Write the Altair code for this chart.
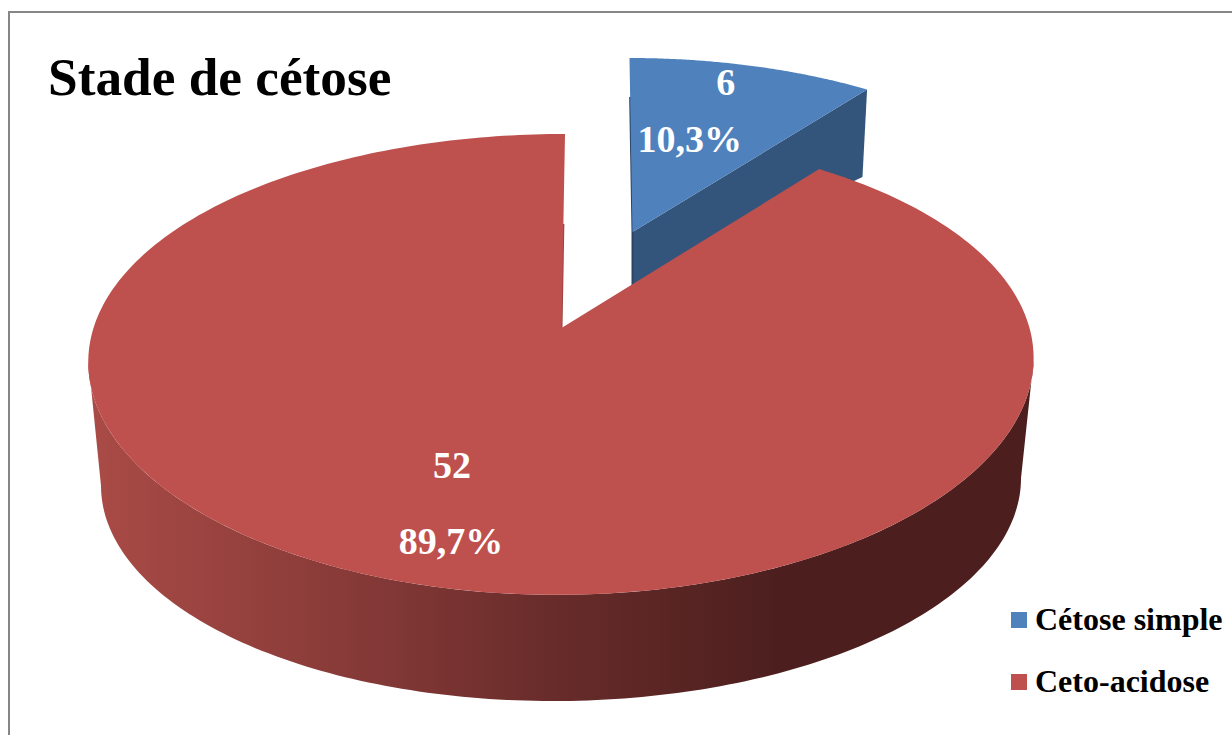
import math

import altair as alt
import pandas as pd

# Chart values
names = ["Cétose simple", "Ceto-acidose"]
counts = [6, 52]
top_colors = ["#4F81BD", "#BE504D"]
title_text = "Stade de cétose"

SERIF = "Liberation Serif"
total = sum(counts)
shares = [c / total for c in counts]
percents = [f"{s * 100:.1f}%".replace(".", ",") for s in shares]
sweep = [s * 360 for s in shares]


def camera(cx, cy, a, b, k=0.158, kx=0.158, s=0.0):
    """Perspective view of a unit disc: bearing in degrees clockwise from the back."""
    def project(bearing, r=1.0):
        t = math.radians(bearing)
        u, v = r * math.sin(t), r * math.cos(t)
        return cx + (a * u + s * v) / (1 + kx * v), cy - b * v / (1 + k * v)
    return project


# Discs of the red slice and of the pulled-out blue slice, top and bottom faces
red_top = camera(561.5, 328, 468, 224.7, kx=0.14, s=4.0)
blue_top = camera(632.5, 232, 441, 201.5, s=-3.5)
blue_bottom = camera(632.5, 286, 437, 154, s=-7)


def arc(project, start, end, steps=120):
    return [project(start + (end - start) * i / steps) for i in range(steps + 1)]


def polygon(points):
    return pd.DataFrame(
        [{"x": x, "y": y, "i": i} for i, (x, y) in enumerate(points)]
    )


def ellipse_front(cx, cy, rx, ry, tilt=0.0, steps=160):
    # Lower half of an ellipse, left to right, slightly tilted
    points = []
    for i in range(steps + 1):
        x = cx - rx * math.cos(math.pi * i / steps)
        y = cy + ry * math.sin(math.pi * i / steps) + tilt * (x - cx)
        points.append((x, y))
    return points


x_scale = alt.Scale(domain=[0, 1232], range=[0, 1232], nice=False, zero=False)
y_scale = alt.Scale(domain=[0, 735], range=[0, 735], nice=False, zero=False)
X = alt.X("x:Q", scale=x_scale, axis=None)
Y = alt.Y("y:Q", scale=y_scale, axis=None)
legend_fill = alt.Scale(domain=names, range=top_colors)


def shape(points, **mark):
    return alt.Chart(polygon(points)).mark_line(strokeWidth=0, **mark).encode(
        x=X, y=Y, order="i:Q"
    )


def edge(points, color, width):
    return alt.Chart(polygon(points)).mark_line(
        stroke=color, strokeWidth=width
    ).encode(x=X, y=Y, order="i:Q")


def face(points, name):
    frame = polygon(points).assign(name=name)
    return alt.Chart(frame).mark_line(strokeWidth=0, stroke=None).encode(
        x=X,
        y=Y,
        order="i:Q",
        fill=alt.Fill(
            "name:N",
            scale=legend_fill,
            legend=alt.Legend(
                title=None,
                orient="none",
                legendX=1003,
                legendY=604,
                symbolType="square",
                symbolSize=256,
                symbolStrokeWidth=0,
                labelFont=SERIF,
                labelFontSize=32,
                labelFontWeight="bold",
                labelColor="black",
                labelOffset=0,
                rowPadding=30,
                labelLimit=400,
            ),
        ),
    )


# Blue slice: cut wall, dark rim on its left edge, then the top face
blue_start, blue_end = 0, sweep[0]
blue_wall = shape(
    [blue_top(0, 0), blue_top(blue_end), blue_bottom(blue_end), blue_bottom(0, 0)],
    fill="#33557C",
)
blue_rim = edge(
    [blue_top(0, 0.75), blue_top(0, 0), blue_bottom(0, 0)], "#2A4566", 2
)
blue_face = face([blue_top(0, 0)] + arc(blue_top, blue_start, blue_end), names[0])

# Red slice: curved outer wall shaded left to right, rim on the cut, top face
front = arc(red_top, 262, 98, steps=200)
lower = ellipse_front(561, 482, 460, 219, tilt=-0.008)
red_wall = shape(
    front + lower[::-1],
    fill=alt.LinearGradient(
        gradient="linear",
        x1=0,
        x2=1,
        y1=0,
        y2=0,
        stops=[
            alt.GradientStop(offset=0.0, color="#AA4B46"),
            alt.GradientStop(offset=0.3, color="#843937"),
            alt.GradientStop(offset=0.49, color="#682C2A"),
            alt.GradientStop(offset=0.73, color="#4C1F1E"),
            alt.GradientStop(offset=1.0, color="#4C1F1E"),
        ],
    ),
)
red_rim = edge([red_top(360, 0.5), red_top(0, 0)], "#9C4543", 2)
red_face = face(
    [red_top(0, 0)] + arc(red_top, sweep[0], 360, steps=300), names[1]
)


def label(project, bearing, text, dx, dy):
    x, y = project(bearing, 0.6)
    return alt.Chart(pd.DataFrame({"x": [x], "y": [y], "t": [text]})).mark_text(
        font=SERIF,
        fontSize=38,
        fontWeight="bold",
        color="white",
        dx=dx,
        dy=dy,
    ).encode(x=X, y=Y, text="t:N")


blue_mid = sweep[0] / 2
red_mid = sweep[0] + sweep[1] / 2
labels = [
    label(blue_top, blue_mid, str(counts[0]), 17.5, -43),
    label(blue_top, blue_mid, percents[0], -18.5, 14),
    label(red_top, red_mid, str(counts[1]), -9.5, -1),
    label(red_top, red_mid, percents[1], -10.5, 75),
]

# Chart frame: only its top and left sides fall inside the page
frame_left = alt.Chart(pd.DataFrame({"a": [0]})).mark_rule(
    color="#868686", strokeWidth=2
).encode(x=alt.value(9), y=alt.value(11), y2=alt.value(735))
frame_top = alt.Chart(pd.DataFrame({"a": [0]})).mark_rule(
    color="#868686", strokeWidth=2
).encode(y=alt.value(12), x=alt.value(8), x2=alt.value(1232))

chart = alt.layer(
    frame_left,
    frame_top,
    blue_wall,
    blue_rim,
    blue_face,
    red_wall,
    red_rim,
    red_face,
    *labels,
).properties(
    width=1232,
    height=735,
    padding=0,
    autosize=alt.AutoSizeParams(type="none"),
    background="white",
    title=alt.TitleParams(
        title_text,
        anchor="start",
        font=SERIF,
        fontSize=53.3,
        fontWeight="bold",
        color="black",
        dx=48,
        dy=148,
        offset=0,
        baseline="alphabetic",
    ),
).configure_view(stroke=None)

chart.save("out.html", embed_options={"renderer": "svg", "actions": False})
